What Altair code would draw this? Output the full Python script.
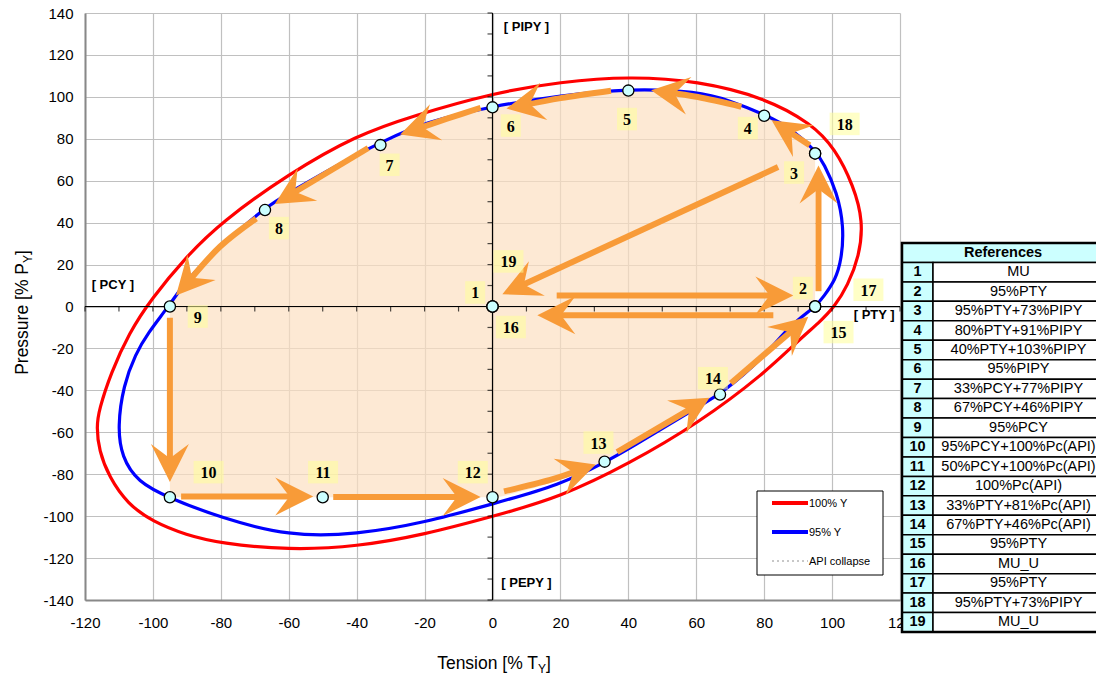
import math
import altair as alt
import pandas as pd

# ---------------------------------------------------------------------------
# Yield envelopes in tension [% TY] / pressure [% PY], traced counter-clockwise
# ---------------------------------------------------------------------------
RED_T = [100.8, 104.6, 108.0, 109.2, 106.3, 100.9, 94.0, 80.2, 60.5, 40.3,
         20.1, 0.0, -23.3, -40.0, -60.0, -80.0, -90.0, -100.6, -107.0, -112.4,
         -115.9, -116.6, -115.9, -112.9, -107.5, -100.1, -90.2, -80.0, -60.0, -40.0,
         -20.0, 0.0, 20.1, 40.3, 60.5, 80.2, 90.5, 96.0]
RED_P = [0.0, 10.0, 24.0, 40.5, 57.7, 75.3, 87.2, 99.6, 107.6, 109.8,
         107.2, 101.8, 91.0, 81.8, 63.3, 40.1, 24.1, 3.4, -12.6, -31.8,
         -49.4, -57.4, -68.6, -81.4, -94.1, -102.6, -109.0, -113.0, -116.2, -114.6,
         -108.8, -100.2, -90.9, -74.9, -55.8, -31.8, -15.5, -8.0]

BLUE_T = [95.3, 97.5, 101.0, 102.8, 103.5, 101.5, 97.5, 95.3, 88.1, 80.2,
          70.0, 60.5, 40.1, 20.1, 0.0, -20.0, -33.1, -40.0, -60.0, -67.3,
          -80.0, -90.0, -95.4, -101.5, -105.1, -108.7, -110.4, -109.2, -104.5, -95.4,
          -80.0, -60.0, -40.0, -20.0, 0.0, 20.1, 33.2, 40.3, 60.5, 67.4,
          80.2, 87.7]
BLUE_P = [0.0, 4.8, 12.7, 22.5, 38.0, 54.5, 68.4, 74.0, 84.9, 91.6,
          98.2, 102.6, 104.0, 100.7, 95.6, 88.0, 78.0, 72.6, 54.3, 46.8,
          28.8, 12.9, 0.0, -12.7, -22.6, -37.6, -57.4, -71.8, -83.7, -91.2,
          -100.8, -109.6, -108.8, -103.1, -94.2, -85.0, -74.2, -67.8, -47.8, -41.7,
          -23.8, -8.7]

# Region swept by the load path (upper and lower bounds along tension)
FILL_T = [-95, -90, -80, -67, -60, -50, -40, -33, -20, -10, 0,
          10, 20, 33, 40, 50, 60, 67, 73, 80, 88, 95]
FILL_TOP = [0.0, 12.9, 28.8, 46.0, 54.3, 63.5, 72.6, 77.0, 87.8, 92.0, 95.0,
            98.3, 100.5, 103.0, 103.4, 103.3, 102.4, 99.3, 96.5, 91.0, 84.9, 73.0]
FILL_BOT = [-91.0, -91.0, -91.0, -91.0, -91.0, -91.0, -91.0, -91.0, -91.0, -91.0, -91.0,
            -87.5, -82.5, -74.0, -67.8, -58.0, -48.0, -42.0, -34.0, -24.0, -12.0, 0.0]

# Load cases
PT_ID = list(range(1, 20))
PT_T = [0, 95, 95, 80, 40, 0, -33, -67, -95, -95, -50, 0, 33, 67, 95, 0, 95, 95, 0]
PT_P = [0, 0, 73, 91, 103, 95, 77, 46, 0, -91, -91, -91, -74, -42, 0, 0, 0, 73, 0]

# Where each load-case number is written
LBL_T = [-5.1, 91.4, 88.8, 75.2, 39.6, 5.4, -30.3, -62.9, -86.8, -83.6,
         -49.9, -5.8, 31.2, 64.9, 101.9, 5.4, 110.7, 103.7, 4.7]
LBL_P = [6.7, 8.8, 63.9, 85.1, 89.4, 86.3, 67.6, 37.4, -4.8, -79.0,
         -79.0, -79.0, -64.9, -34.2, -12.2, -9.8, 8.0, 87.1, 21.5]

REF_TEXT = ["MU", "95%PTY", "95%PTY+73%PIPY", "80%PTY+91%PIPY", "40%PTY+103%PIPY",
            "95%PIPY", "33%PCY+77%PIPY", "67%PCY+46%PIPY", "95%PCY",
            "95%PCY+100%Pc(API)", "50%PCY+100%Pc(API)", "100%Pc(API)",
            "33%PTY+81%Pc(API)", "67%PTY+46%Pc(API)", "95%PTY", "MU_U", "95%PTY",
            "95%PTY+73%PIPY", "MU_U"]

# Load path arrows: each list runs from tail to tip
ARROWS = [
    [(18.9, 5.3), (88.6, 5.3)],
    [(96.0, 7.3), (96.0, 67.3)],
    [(93.4, 76.9), (82.2, 88.8)],
    [(73.3, 95.3), (60.5, 99.9), (46.7, 103.2)],
    [(34.9, 102.9), (20.1, 99.4), (4.1, 94.4)],
    [(-3.5, 94.8), (-13.4, 89.6), (-27.2, 82.0)],
    [(-36.6, 75.6), (-64.1, 48.9)],
    [(-69.6, 42.0), (-80.2, 28.6), (-93.2, 5.3)],
    [(-95.0, -5.4), (-95.0, -83.7)],
    [(-91.7, -90.6), (-52.8, -90.6)],
    [(-46.9, -90.9), (-3.5, -90.9)],
    [(3.4, -88.2), (17.0, -82.7), (30.4, -75.4)],
    [(36.7, -69.4), (63.9, -43.5)],
    [(70.2, -36.6), (93.0, -4.9)],
    [(82.7, -4.2), (13.2, -4.2)],
    [(84.1, 66.5), (2.9, 5.8)],
]

AXIS_TAGS = ["[ PIPY ]", "[ PEPY ]", "[ PCY ]", "[ PTY ]"]
AXIS_TAG_T = [10.0, 10.0, -111.8, 112.4]
AXIS_TAG_P = [133.3, -131.9, 10.3, -4.1]

LEGEND_LABELS = ["100% Y", "95% Y", "API collapse"]

# ---------------------------------------------------------------------------
W, H = 815, 587
SX = W / 240.0
SY = H / 280.0
ORANGE = "#F89B38"
SANS = "Liberation Sans"
SERIF = "Liberation Serif"

xs = alt.Scale(domain=[-120, 120], nice=False, zero=False)
ys = alt.Scale(domain=[-140, 140], nice=False, zero=False)
axis_style = dict(title="", grid=True, gridColor="#C0C0C0", gridWidth=1.2,
                  domainColor="#888888", domainWidth=2, ticks=False, tickSize=0,
                  labelFont=SANS, labelFontSize=15, labelColor="black",
                  labelFlush=False, labelOverlap=False,
                  labelExpr="'' + datum.value")
x_axis = alt.Axis(values=list(range(-120, 121, 20)), labelPadding=15, **axis_style)
y_axis = alt.Axis(values=list(range(-140, 141, 20)), labelPadding=12, **axis_style)


def X(f):
    return alt.X(f, type="quantitative", scale=xs, axis=x_axis)


def Y(f):
    return alt.Y(f, type="quantitative", scale=ys, axis=y_axis)


# swept region
fill_df = pd.DataFrame({"t": FILL_T, "top": FILL_TOP, "bot": FILL_BOT})
fill = alt.Chart(fill_df).mark_area(color="#FCE0C2", opacity=0.7,
                                    interpolate="monotone").encode(
    x=X("t"), y=Y("top"), y2="bot:Q")

# envelopes
env_df = pd.concat([
    pd.DataFrame({"env": "100% Y", "ord": range(len(RED_T)), "t": RED_T, "p": RED_P}),
    pd.DataFrame({"env": "95% Y", "ord": range(len(BLUE_T)), "t": BLUE_T, "p": BLUE_P}),
])
envelopes = alt.Chart(env_df).mark_line(interpolate="basis-closed",
                                        strokeWidth=3.2).encode(
    x=X("t"), y=Y("p"), order="ord:Q", detail="env:N",
    color=alt.Color("env:N", scale=alt.Scale(domain=["100% Y", "95% Y"],
                                             range=["#FF0000", "#0000FF"]),
                    legend=None))

# central axes through the origin, with minor ticks every 10 %
cross_df = pd.DataFrame({"t": [0, -120], "t2": [0, 120], "p": [-140, 0], "p2": [140, 0]})
cross = alt.Chart(cross_df).mark_rule(color="black", strokeWidth=1.2).encode(
    x=X("t"), x2="t2:Q", y=Y("p"), y2="p2:Q")
ytick_df = pd.DataFrame({"t": 0, "p": list(range(-140, 141, 10))})
yticks = alt.Chart(ytick_df).mark_tick(orient="horizontal", size=5, thickness=1.2,
                                       xOffset=-2.5, color="black").encode(
    x=X("t"), y=Y("p"))
xtick_df = pd.DataFrame({"t": list(range(-120, 121, 10)), "p": 0})
xticks = alt.Chart(xtick_df).mark_tick(orient="vertical", size=5, thickness=1.2,
                                       yOffset=2.5, color="black").encode(
    x=X("t"), y=Y("p"))

# arrows: shaft stops inside the head, head is a notched triangle
HEAD_BACK = 18
shaft_rows, head_rows = [], []
for i, pts in enumerate(ARROWS):
    (ax, ay), (tx, ty) = pts[-2], pts[-1]
    dxs, dys = (tx - ax) * SX, (ty - ay) * SY
    L = math.hypot(dxs, dys)
    end = (tx - HEAD_BACK * dxs / L / SX, ty - HEAD_BACK * dys / L / SY)
    for k, (a, b) in enumerate(pts[:-1] + [end]):
        shaft_rows.append({"arrow": i, "k": k, "t": a, "p": b})
    head_rows.append({"t": tx, "p": ty,
                      "ang": math.degrees(math.atan2(dxs, dys)) % 360})
shafts = alt.Chart(pd.DataFrame(shaft_rows)).mark_line(
    color=ORANGE, strokeWidth=6, strokeCap="butt", interpolate="cardinal").encode(
    x=X("t"), y=Y("p"), detail="arrow:N", order="k:Q")
heads = alt.Chart(pd.DataFrame(head_rows)).mark_point(
    shape="M0,0L1,2L0,1.25L-1,2Z", size=1444, filled=True, color=ORANGE,
    opacity=1, strokeWidth=0).encode(
    x=X("t"), y=Y("p"), angle=alt.Angle("ang:Q", scale=None))

# load-case markers
pts_df = pd.DataFrame({"id": PT_ID, "t": PT_T, "p": PT_P})
points = alt.Chart(pts_df).mark_circle(size=125, color="#CCFFFF", opacity=1,
                                       stroke="black", strokeWidth=1.3).encode(
    x=X("t"), y=Y("p"))

# numbered tags
lbl_df = pd.DataFrame({"id": [str(i) for i in PT_ID], "t": LBL_T, "p": LBL_P})
lbl_df["box"] = ["M-0.667,-0.75L0.667,-0.75L0.667,0.75L-0.667,0.75Z" if len(s) == 1
                 else "M-1,-0.75L1,-0.75L1,0.75L-1,0.75Z" for s in lbl_df["id"]]
tag_boxes = alt.Chart(lbl_df).mark_point(filled=True, size=900, color="#FFFF99",
                                         opacity=0.55, strokeWidth=0).encode(
    x=X("t"), y=Y("p"), shape=alt.Shape("box:N", scale=None))
tag_text = alt.Chart(lbl_df).mark_text(font=SERIF, fontWeight="bold", fontSize=16,
                                       baseline="middle", dy=1, color="black").encode(
    x=X("t"), y=Y("p"), text="id:N")

# axis direction tags
axtag_df = pd.DataFrame({"txt": AXIS_TAGS, "t": AXIS_TAG_T, "p": AXIS_TAG_P})
axis_tags = alt.Chart(axtag_df).mark_text(font=SANS, fontWeight="bold", fontSize=13,
                                          baseline="middle", color="black").encode(
    x=X("t"), y=Y("p"), text="txt:N")

one = pd.DataFrame({"k": [0]})

# axis titles with subscript Y
xt1 = alt.Chart(one).mark_text(font=SANS, fontSize=17.5, align="right",
                               baseline="alphabetic").encode(
    x=alt.value(453), y=alt.value(656), text=alt.value("Tension [% T"))
xt2 = alt.Chart(one).mark_text(font=SANS, fontSize=12, align="left",
                               baseline="alphabetic").encode(
    x=alt.value(453), y=alt.value(660), text=alt.value("Y"))
xt3 = alt.Chart(one).mark_text(font=SANS, fontSize=17.5, align="left",
                               baseline="alphabetic").encode(
    x=alt.value(461), y=alt.value(656), text=alt.value("]"))
yt1 = alt.Chart(one).mark_text(font=SANS, fontSize=17.5, align="right", angle=270,
                               baseline="alphabetic").encode(
    x=alt.value(-57), y=alt.value(250), text=alt.value("Pressure [% P"))
yt2 = alt.Chart(one).mark_text(font=SANS, fontSize=12, align="left", angle=270,
                               baseline="alphabetic").encode(
    x=alt.value(-53), y=alt.value(250), text=alt.value("Y"))
yt3 = alt.Chart(one).mark_text(font=SANS, fontSize=17.5, align="left", angle=270,
                               baseline="alphabetic").encode(
    x=alt.value(-57), y=alt.value(242), text=alt.value("]"))

# legend box
legend_layers = [alt.Chart(one).mark_rect(fill="white", stroke="black",
                                          strokeWidth=1).encode(
    x=alt.value(672), x2=alt.value(798), y=alt.value(478), y2=alt.value(562))]
for i, (lab, col, wid, dash) in enumerate(zip(LEGEND_LABELS,
                                              ["#FF0000", "#0000FF", "#909090"],
                                              [4, 4, 1], [[1, 0], [1, 0], [2, 3]])):
    yy = 490 + 29 * i
    legend_layers.append(alt.Chart(one).mark_rule(color=col, strokeWidth=wid,
                                                  strokeDash=dash).encode(
        x=alt.value(687), x2=alt.value(723), y=alt.value(yy)))
    legend_layers.append(alt.Chart(one).mark_text(font=SANS, fontSize=11, align="left",
                                                  baseline="middle").encode(
        x=alt.value(724), y=alt.value(yy + 1), text=alt.value(lab)))

main = alt.layer(fill, envelopes, cross, yticks, xticks, shafts, heads, points,
                 tag_boxes, tag_text, axis_tags, xt1, xt2, xt3, yt1, yt2, yt3,
                 *legend_layers)

# reference table at the right
ty = alt.Scale(domain=[0, 20], range=[230, 619])
tbl = pd.DataFrame({"r0": list(range(1, 20)), "r1": list(range(2, 21)),
                    "mid": [r + 0.5 for r in range(1, 20)],
                    "no": [str(i) for i in PT_ID], "txt": REF_TEXT})
hdr = pd.DataFrame({"r0": [0], "r1": [1], "mid": [0.5], "txt": ["References"]})
frame = pd.DataFrame({"r0": [0], "r1": [20]})
TY = lambda f: alt.Y(f, type="quantitative", scale=ty, axis=None)

hdr_cell = alt.Chart(hdr).mark_rect(fill="#CCFFFF", stroke="black", strokeWidth=1.5).encode(
    x=alt.value(817), x2=alt.value(1019), y=TY("r0"), y2="r1:Q")
no_cell = alt.Chart(tbl).mark_rect(fill="#CCFFFF", stroke="black", strokeWidth=1.5).encode(
    x=alt.value(817), x2=alt.value(848), y=TY("r0"), y2="r1:Q")
txt_cell = alt.Chart(tbl).mark_rect(fill="white", stroke="black", strokeWidth=1.5).encode(
    x=alt.value(848), x2=alt.value(1019), y=TY("r0"), y2="r1:Q")
outer = alt.Chart(frame).mark_rect(fill="white", fillOpacity=0, stroke="black",
                                   strokeWidth=2.5).encode(
    x=alt.value(817), x2=alt.value(1019), y=TY("r0"), y2="r1:Q")
hdr_txt = alt.Chart(hdr).mark_text(font=SANS, fontWeight="bold", fontSize=14.5,
                                   baseline="middle").encode(
    x=alt.value(918), y=TY("mid"), text="txt:N")
no_txt = alt.Chart(tbl).mark_text(font=SANS, fontWeight="bold", fontSize=14.5,
                                  baseline="middle").encode(
    x=alt.value(832.5), y=TY("mid"), text="no:N")
ref_txt = alt.Chart(tbl).mark_text(font=SANS, fontSize=14.5, baseline="middle").encode(
    x=alt.value(933.5), y=TY("mid"), text="txt:N")
table = alt.layer(hdr_cell, no_cell, txt_cell, outer, hdr_txt, no_txt, ref_txt)

chart = alt.layer(main, table).resolve_scale(y="independent").properties(
    width=W, height=H,
    padding={"left": 85, "top": 13, "right": 196, "bottom": 79},
    autosize=alt.AutoSizeParams(type="none"),
    background="white",
).configure_view(strokeWidth=0)

chart.save("out.html", embed_options={"renderer": "svg", "actions": False})
